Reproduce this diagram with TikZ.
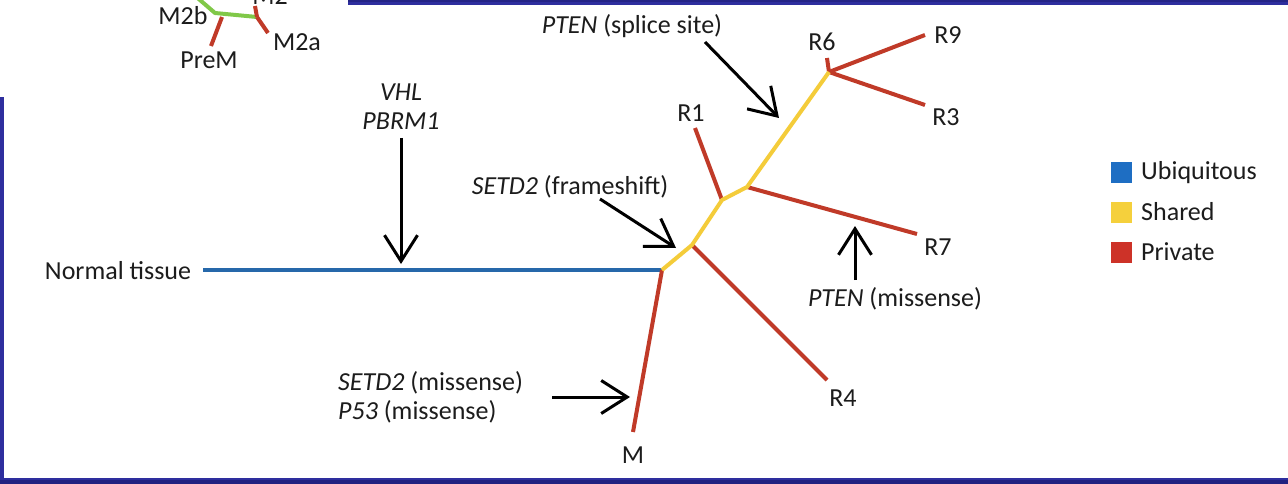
\documentclass[tikz,border=0pt]{standalone}
\usepackage{fontspec}
\setmainfont{Carlito}
\usetikzlibrary{arrows.meta}
\definecolor{bgblue}{RGB}{46,46,158}
\definecolor{bgdark}{RGB}{22,22,100}
\definecolor{ubq}{RGB}{38,104,170}
\definecolor{shr}{RGB}{244,204,58}
\definecolor{prv}{RGB}{192,58,40}
\definecolor{grn}{RGB}{128,200,72}
\definecolor{legblue}{RGB}{30,110,195}
\definecolor{legyel}{RGB}{245,208,60}
\definecolor{legred}{RGB}{205,50,40}
\definecolor{txt}{RGB}{28,28,28}
\tikzset{
  lbl/.style={font=\fontsize{26}{29}\selectfont, inner sep=0pt, text=txt},
  branch/.style={line width=4pt, line cap=butt, line join=round},
  ubqline/.style={branch, draw=ubq},
  shrline/.style={branch, draw=shr},
  prvline/.style={branch, draw=prv},
  grnline/.style={branch, draw=grn},
  mutarrow/.style={line width=3pt, draw=black, -{Straight Barb[length=26pt,width=33pt]}},
  legsq/.style={draw=none, minimum size=21pt, inner sep=0pt}
}
\begin{document}
\begin{tikzpicture}[x=1pt,y=-1pt]
\useasboundingbox (0,0) rectangle (1288,484);
% background
\fill[bgblue] (0,0) rectangle (1288,484);
\fill[bgdark, opacity=0.5] (0,480) rectangle (1288,484);
\fill[bgdark, opacity=0.4] (348,0) rectangle (1288,2);
% white panels
\fill[white] (0,0) rectangle (348,97);
\fill[white] (4,5) rectangle (1288,478);

% ---------- top-left small tree ----------
\coordinate (g0) at (193,-6);
\coordinate (g1) at (215,13);
\coordinate (g2) at (257,17);
\coordinate (gp) at (222,17);
\coordinate (gpe) at (211,46);
\coordinate (gc) at (255,6);
\coordinate (gae) at (268,33);
\draw[grnline] (g0) -- (g1) -- (g2);
\draw[prvline] (g2) -- (gc);
\draw[prvline] (g2) -- (gae);
\draw[prvline] (gp) -- (gpe);
\node[lbl] (m2b) at (183,16) {M2b};
\node[lbl] (m2a) at (297,42) {M2a};
\node[lbl] (prem) at (209,60) {PreM};
\node[lbl, anchor=base] (m2top) at (270,5) {M2};

% ---------- main tree ----------
\node[lbl] (normal) at (118,271) {Normal tissue};
\coordinate (b0) at (203,270);
\coordinate (n0) at (662,270);
\coordinate (y1) at (692,245);
\coordinate (y2) at (722,200);
\coordinate (y3) at (747,187);
\coordinate (y4) at (829,72);

\coordinate (mEnd) at (633,432);
\coordinate (r4End) at (827,380);
\coordinate (r1End) at (695,128);
\coordinate (r7End) at (917,234);
\coordinate (r6End) at (827,58);
\coordinate (r9End) at (925,35);
\coordinate (r3End) at (925,105);

\draw[ubqline] (b0) -- (n0);
\draw[prvline] (n0) -- (mEnd);
\draw[prvline] (y1) -- (r4End);
\draw[prvline] (y2) -- (r1End);
\draw[prvline] (y3) -- (r7End);
\draw[prvline] (y4) -- (r6End);
\draw[prvline] (y4) -- (r9End);
\draw[prvline] (y4) -- (r3End);
\draw[shrline] (n0) -- (y1) -- (y2) -- (y3) -- (y4);

\node[lbl] (lM) at (633,455) {M};
\node[lbl] (lR4) at (843,398) {R4};
\node[lbl] (lR1) at (691,113) {R1};
\node[lbl] (lR7) at (938,247) {R7};
\node[lbl] (lR6) at (822,42) {R6};
\node[lbl] (lR9) at (948,35) {R9};
\node[lbl] (lR3) at (946,117) {R3};

% ---------- mutation labels and arrows ----------
\node[lbl, align=center] (vhl) at (401,107) {\textit{VHL}\\\textit{PBRM1}};
\coordinate (a1s) at (401,138);
\coordinate (a1e) at (401,264);
\draw[mutarrow] (a1s) -- (a1e);

\node[lbl] (setfs) at (570,187) {\textit{SETD2} (frameshift)};
\coordinate (a2s) at (600,199);
\coordinate (a2e) at (676,248);
\draw[mutarrow] (a2s) -- (a2e);

\node[lbl] (ptensp) at (632,26) {\textit{PTEN} (splice site)};
\coordinate (a3s) at (705,42);
\coordinate (a3e) at (779,118);
\draw[mutarrow] (a3s) -- (a3e);

\node[lbl] (ptenms) at (895,299) {\textit{PTEN} (missense)};
\coordinate (a4s) at (855,280);
\coordinate (a4e) at (855,226);
\draw[mutarrow] (a4s) -- (a4e);

\node[lbl, align=left, anchor=west] (setms) at (338,397) {\textit{SETD2} (missense)\\\textit{P53} (missense)};
\coordinate (a5s) at (552,397);
\coordinate (a5e) at (630,397);
\draw[mutarrow] (a5s) -- (a5e);

% ---------- legend ----------
\node[legsq, fill=legblue] (sqU) at (1121,172.5) {};
\node[legsq, fill=legyel] (sqS) at (1121,212) {};
\node[legsq, fill=legred] (sqP) at (1121,252.5) {};
\node[lbl, anchor=west] (tU) at (1141,173) {Ubiquitous};
\node[lbl, anchor=west] (tS) at (1141,212) {Shared};
\node[lbl, anchor=west] (tP) at (1141,252) {Private};
\end{tikzpicture}
\end{document}
